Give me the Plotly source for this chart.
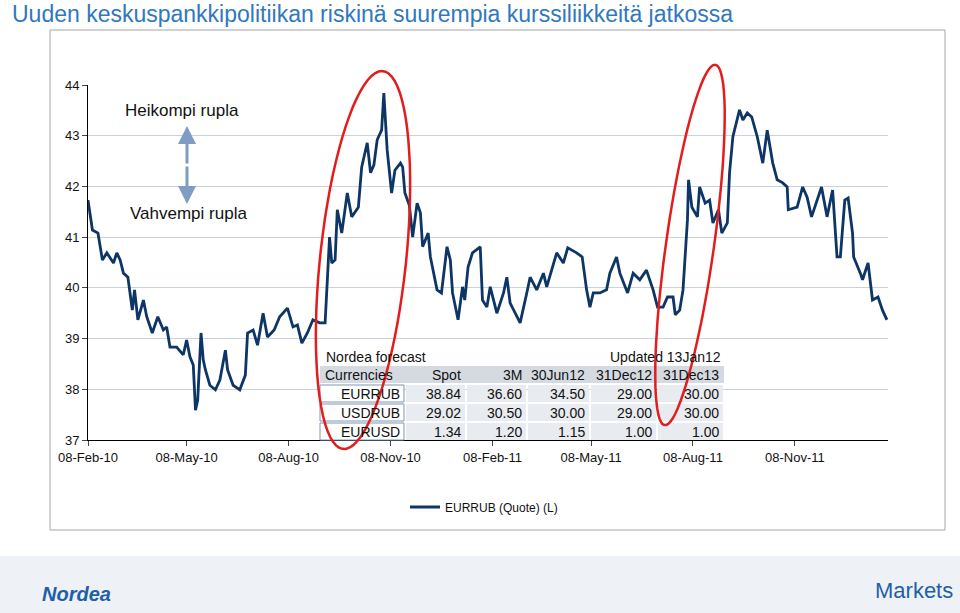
import numpy as np
import pandas as pd
import plotly.graph_objects as go

W, H = 960, 613

# EURRUB quote: days after 08-Feb-10 and rate
days = [0, 4, 9, 13, 17, 23, 26, 29, 32, 36, 40, 42, 45, 50, 53, 58, 63, 68, 71, 74,
        80, 86, 89, 92, 95, 97, 99, 102, 104, 106, 110, 115, 119, 124, 126, 131, 137, 142, 144, 149,
        153, 158, 162, 168, 173, 180, 185, 189, 193, 198, 203, 209, 214, 217, 218, 220, 223, 225, 229, 234,
        238, 244, 247, 252, 255, 258, 261, 265, 267, 270, 274, 277, 282, 284, 286, 290, 293, 297, 300, 302,
        307, 309, 315, 319, 324, 327, 329, 334, 338, 340, 343, 347, 354, 356, 360, 363, 369, 375, 378, 381,
        387, 390, 396, 399, 405, 411, 414, 423, 429, 433, 441, 446, 450, 453, 456, 462, 468, 471, 477, 480,
        487, 492, 498, 504, 510, 514, 519, 523, 528, 530, 534, 537, 541, 542, 545, 550, 552, 557, 561, 564,
        569, 572, 577, 579, 582, 586, 588, 591, 595, 599, 604, 609, 613, 618, 622, 627, 631, 632, 640, 645,
        649, 653, 658, 662, 667, 672, 676, 679, 683, 686, 690, 691, 697, 699, 704, 708, 713, 717, 721]
eurrub = [41.73, 41.14, 41.08, 40.55, 40.69, 40.49, 40.69, 40.55, 40.29, 40.21, 39.56, 39.96, 39.37, 39.76, 39.43,
          39.11, 39.43, 39.17, 39.23, 38.83, 38.83, 38.68, 38.97, 38.64, 38.48, 37.59, 37.79, 39.11, 38.58, 38.38,
          38.08, 37.99, 38.18, 38.77, 38.38, 38.08, 37.99, 38.28, 39.11, 39.17, 38.87, 39.50, 39.03, 39.17, 39.43,
          39.60, 39.23, 39.27, 38.91, 39.11, 39.37, 39.31, 39.31, 40.55, 41.00, 40.49, 40.55, 41.54, 41.08, 41.87,
          41.40, 41.59, 42.38, 42.86, 42.27, 42.42, 42.92, 43.11, 43.84, 42.72, 41.87, 42.32, 42.46, 42.38, 41.87,
          41.63, 41.00, 41.67, 41.48, 40.81, 41.08, 40.61, 39.96, 39.90, 40.81, 40.55, 39.90, 39.37, 40.02, 39.76,
          40.41, 40.69, 40.81, 39.76, 39.62, 40.02, 39.50, 39.90, 40.21, 39.70, 39.43, 39.31, 39.90, 40.21, 39.96,
          40.29, 40.02, 40.69, 40.49, 40.79, 40.69, 40.61, 39.96, 39.62, 39.90, 39.90, 39.96, 40.29, 40.61, 40.29,
          39.90, 40.29, 40.16, 40.35, 39.96, 39.62, 39.62, 39.82, 39.82, 39.47, 39.56, 39.96, 41.34, 42.13, 41.59,
          41.40, 41.99, 41.67, 41.73, 41.28, 41.54, 41.08, 41.28, 42.27, 42.98, 43.31, 43.51, 43.31, 43.45, 43.37,
          42.98, 42.46, 43.11, 42.46, 42.13, 42.07, 41.99, 41.54, 41.59, 41.99, 41.79, 41.40, 41.73, 41.99, 41.40,
          41.93, 40.61, 40.61, 41.73, 41.77, 41.08, 40.61, 40.29, 40.16, 40.49, 39.76, 39.82, 39.56, 39.37]

tick_dates = ["2010-02-08", "2010-05-08", "2010-08-08", "2010-11-08",
              "2011-02-08", "2011-05-08", "2011-08-08", "2011-11-08"]
tick_labels = ["08-Feb-10", "08-May-10", "08-Aug-10", "08-Nov-10",
               "08-Feb-11", "08-May-11", "08-Aug-11", "08-Nov-11"]

# forecast table
tbl_header = ["Currencies", "Spot", "3M", "30Jun12", "31Dec12", "31Dec13"]
tbl_pairs = ["EURRUB", "USDRUB", "EURUSD"]
tbl_values = [["38.84", "36.60", "34.50", "29.00", "30.00"],
              ["29.02", "30.50", "30.00", "29.00", "30.00"],
              ["1.34", "1.20", "1.15", "1.00", "1.00"]]

NAVY = "#0d3565"
FONT = "Liberation Sans, Arial, sans-serif"


def px(x):
    return x / W


def py(y):
    return 1 - y / H


def label(x, y, text, anchor="left", size=14, color="#111111"):
    return dict(x=px(x), y=py(y), xref="paper", yref="paper", text=text, showarrow=False,
                xanchor=anchor, yanchor="middle", font={"size": size, "color": color})


dates = pd.Timestamp("2010-02-08") + pd.to_timedelta(days, unit="D")

fig = go.Figure()
fig.add_trace(go.Scatter(x=dates, y=eurrub, mode="lines", name="EURRUB (Quote) (L)",
                         line={"color": NAVY, "width": 2.8}))

shapes = []
annots = []

# outer frame and bottom band
shapes.append(dict(type="rect", xref="paper", yref="paper", x0=px(50), x1=px(945), y0=py(530), y1=py(30),
                   line={"color": "#a6a6a6", "width": 1}, layer="below"))
shapes.append(dict(type="rect", xref="paper", yref="paper", x0=0, x1=1, y0=0, y1=py(556),
                   line={"width": 0}, fillcolor="#eef1f5", layer="below"))


def ellipse(cx, cy, a, b, tilt):
    t = np.linspace(0, 2 * np.pi, 80)
    r = np.radians(tilt)
    xs = cx + a * np.cos(t) * np.cos(r) + b * np.sin(t) * np.sin(r)
    ys = cy - a * np.cos(t) * np.sin(r) + b * np.sin(t) * np.cos(r)
    pts = [f"{px(x):.4f},{py(y):.4f}" for x, y in zip(xs, ys)]
    return "M" + " L".join(pts) + " Z"


# rupla labels with double arrow
annots.append(label(123, 110, "Heikompi rupla", size=17))
annots.append(label(128, 213, "Vahvempi rupla", size=17))
for y_end in (126, 204):
    annots.append(dict(x=px(187), y=py(y_end), xref="paper", yref="paper", text="", showarrow=True,
                       ax=0, ay=165 - y_end, arrowhead=2, arrowsize=1.2, arrowwidth=3,
                       arrowcolor="#7f9cc2"))

# table
annots.append(label(324, 357, "Nordea forecast"))
annots.append(label(723, 357, "Updated 13Jan12", anchor="right"))
shapes.append(dict(type="rect", xref="paper", yref="paper", x0=px(320), x1=px(724), y0=py(383), y1=py(366),
                   line={"width": 0}, fillcolor="#d5dae1"))
col_edges = [405, 466, 527, 590, 657, 724]
row_edges = [384, 403, 422, 441]
for r in range(3):
    mid = (row_edges[r] + row_edges[r + 1]) / 2
    shapes.append(dict(type="rect", xref="paper", yref="paper", x0=px(320), x1=px(404),
                       y0=py(row_edges[r + 1] - 1), y1=py(row_edges[r] + 1),
                       line={"color": "#7f97b5", "width": 1}, fillcolor="white"))
    annots.append(label(402, mid, tbl_pairs[r], anchor="right"))
    for c in range(5):
        shapes.append(dict(type="rect", xref="paper", yref="paper", x0=px(col_edges[c] + 1),
                           x1=px(col_edges[c + 1] - 1), y0=py(row_edges[r + 1] - 1), y1=py(row_edges[r] + 1),
                           line={"width": 0}, fillcolor="#e8ebef"))
        annots.append(label(col_edges[c + 1] - 3, mid, tbl_values[r][c], anchor="right"))
annots.append(label(323, 375, tbl_header[0]))
for c in range(1, 6):
    annots.append(label(col_edges[c] - 3, 375, tbl_header[c], anchor="right"))

# red ellipses drawn over the table
shapes.append(dict(type="path", xref="paper", yref="paper", path=ellipse(363, 260, 43, 190, -6),
                   line={"color": "#e31c1c", "width": 2.5}))
shapes.append(dict(type="path", xref="paper", yref="paper", path=ellipse(690, 245, 24, 182, -8),
                   line={"color": "#e31c1c", "width": 2.5}))

# title and logos
annots.append(label(10, 14, "Uuden keskuspankkipolitiikan riskinä suurempia kurssiliikkeitä jatkossa",
                    size=23, color="#2f78bd"))
annots.append(label(40, 594, "<b><i>Nordea</i></b>", size=20, color="#1f5fa6"))
annots.append(label(955, 590, "Markets", anchor="right", size=22, color="#1f5fa6"))

x0 = pd.Timestamp("2010-02-08")
fig.update_layout(
    width=W, height=H, margin={"l": 0, "r": 0, "t": 0, "b": 0, "pad": 0, "autoexpand": False},
    paper_bgcolor="white", plot_bgcolor="white",
    font={"family": FONT, "size": 13, "color": "#111111"},
    shapes=shapes, annotations=annots,
    showlegend=True,
    legend={"x": px(405), "y": py(507), "xanchor": "left", "yanchor": "middle",
            "font": {"size": 12}, "bgcolor": "rgba(0,0,0,0)"},
    xaxis={"domain": [px(88), px(888)], "range": [x0, x0 + pd.Timedelta(days=722)],
           "tickvals": tick_dates, "ticktext": tick_labels, "showgrid": False, "automargin": False,
           "showline": True, "linecolor": "black", "ticks": "outside", "ticklen": 5,
           "tickfont": {"size": 13}},
    yaxis={"domain": [py(440), py(85)], "range": [37, 44], "dtick": 1, "automargin": False,
           "showgrid": True, "gridcolor": "#c9d3dd", "gridwidth": 1.2,
           "showline": True, "linecolor": "black", "ticks": "outside", "ticklen": 5,
           "tickfont": {"size": 13}, "zeroline": False},
)

fig.write_html("out.html", config={"displayModeBar": False},
               post_script="document.body.style.margin='0';")
